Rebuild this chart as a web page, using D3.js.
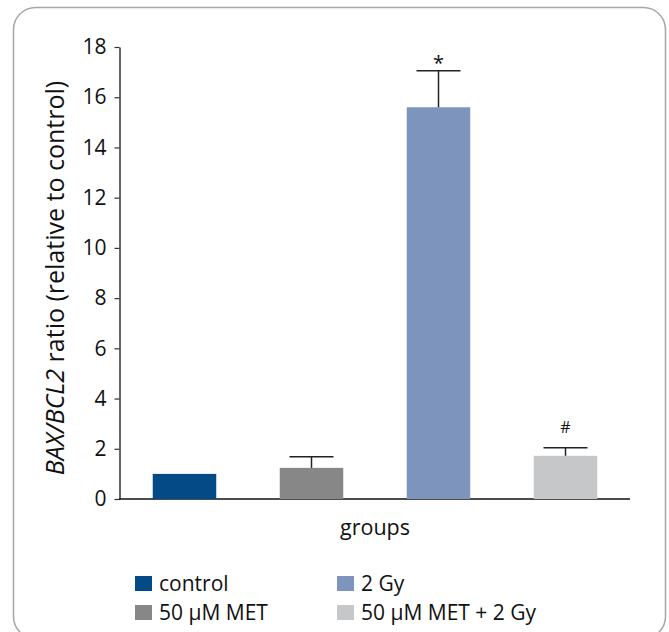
<!DOCTYPE html>
<html><head><meta charset="utf-8">
<script src="https://cdn.jsdelivr.net/npm/d3@7"></script>
<style>body{margin:0;background:#fff}svg{display:block}text{font-family:"Open Sans",sans-serif;fill:#111}</style>
</head><body><svg id="c" width="669" height="632"></svg>
<script>
const categories = ["control", "50 µM MET", "2 Gy", "50 µM MET + 2 Gy"];
const values = [1.0, 1.24, 15.6, 1.72];
const errors = [0, 0.44, 1.45, 0.32];
const marks = ["", "", "*", "#"];
const colors = ["#034a86", "#878787", "#7d95bc", "#c6c7c9"];
const yTicks = [0, 2, 4, 6, 8, 10, 12, 14, 16, 18];

const svg = d3.select("#c");
svg.append("rect").attr("x", 13.5).attr("y", 7.5).attr("width", 652).attr("height", 631)
  .attr("rx", 22).attr("fill", "none").attr("stroke", "#a6a6a6").attr("stroke-width", 1.5);

const y = d3.scaleLinear().domain([0, 18]).range([499, 47]);
const x = d3.scaleBand().domain(categories).range([121, 629]).paddingInner(0.5).paddingOuter(0.25);

const yAxis = svg.append("g").attr("transform", "translate(119.5,0)")
  .call(d3.axisLeft(y).tickValues(yTicks).tickSize(5).tickPadding(8).tickSizeOuter(0));
yAxis.select(".domain").attr("stroke", "#333").attr("stroke-width", 1.5);
yAxis.selectAll(".tick line").attr("stroke", "#333").attr("stroke-width", 1.2);
yAxis.selectAll(".tick text").attr("font-size", 21).attr("fill", "#111").attr("font-family", "Open Sans");

svg.append("line").attr("x1", 119).attr("x2", 630).attr("y1", y(0)).attr("y2", y(0))
  .attr("stroke", "#111").attr("stroke-width", 1.5);

svg.selectAll(".bar").data(categories).enter().append("rect")
  .attr("x", d => x(d)).attr("width", x.bandwidth())
  .attr("y", (d, i) => y(values[i])).attr("height", (d, i) => y(0) - y(values[i]))
  .attr("fill", (d, i) => colors[i]);

const cap = 22;
categories.forEach((d, i) => {
  if (!errors[i]) return;
  const cx = x(d) + x.bandwidth() / 2;
  const top = y(values[i] + errors[i]);
  svg.append("line").attr("x1", cx).attr("x2", cx).attr("y1", y(values[i])).attr("y2", top)
    .attr("stroke", "#222").attr("stroke-width", 1.5);
  svg.append("line").attr("x1", cx - cap).attr("x2", cx + cap).attr("y1", top).attr("y2", top)
    .attr("stroke", "#222").attr("stroke-width", 1.5);
  if (marks[i]) {
    const isStar = marks[i] === "*";
    svg.append("text").attr("x", cx).attr("y", isStar ? top - 1 : top - 15).attr("text-anchor", "middle")
      .attr("font-size", isStar ? 20 : 16).text(marks[i]);
  }
});

svg.append("text").attr("x", 375).attr("y", 535).attr("text-anchor", "middle").attr("font-size", 21.5).text("groups");

const yl = svg.append("text").attr("transform", "translate(64,278) rotate(-90)")
  .attr("text-anchor", "middle").attr("font-size", 25);
yl.append("tspan").attr("font-style", "italic").text("BAX/BCL2");
yl.append("tspan").text(" ratio (relative to control)");

const legPos = [[135, 576], [135, 605], [337, 576], [337, 605]];
categories.forEach((d, i) => {
  const [lx, ly] = legPos[i];
  svg.append("rect").attr("x", lx).attr("y", ly).attr("width", 17).attr("height", 15).attr("fill", colors[i]);
  svg.append("text").attr("x", lx + 24).attr("y", ly + 15).attr("font-size", 21).text(d);
});
</script></body></html>
